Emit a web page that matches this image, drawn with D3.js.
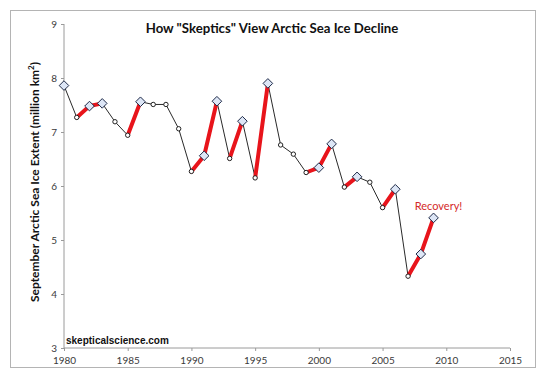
<!DOCTYPE html>
<html>
<head>
<meta charset="utf-8">
<script src="https://cdn.jsdelivr.net/npm/d3@7"></script>
<style>
  body { margin: 0; background: #fff; }
  svg { display: block; }
</style>
</head>
<body>
<svg id="chart"></svg>
<script>
// September extent (million km2)
const years = [1980, 1981, 1982, 1983, 1984, 1985, 1986, 1987, 1988, 1989,
  1990, 1991, 1992, 1993, 1994, 1995, 1996, 1997, 1998, 1999,
  2000, 2001, 2002, 2003, 2004, 2005, 2006, 2007, 2008, 2009];
const extent = [7.86, 7.27, 7.48, 7.53, 7.19, 6.94, 7.56, 7.51, 7.51, 7.06,
  6.27, 6.56, 7.57, 6.51, 7.20, 6.15, 7.90, 6.76, 6.59, 6.25,
  6.34, 6.78, 5.98, 6.17, 6.07, 5.60, 5.94, 4.33, 4.74, 5.41];
const xTicks = [1980, 1985, 1990, 1995, 2000, 2005, 2010, 2015];
const yTicks = [3, 4, 5, 6, 7, 8, 9];

const width = 550;
const height = 377;

const svg = d3.select("#chart")
  .attr("width", width)
  .attr("height", height);

const data = years.map((yr, i) => ({ year: yr, value: extent[i], i }));

// scales
const x = d3.scaleLinear().domain([1980, 2015]).range([64, 510]);
const y = d3.scaleLinear().domain([3, 9]).range([348, 24]);

// outer frame
svg.append("rect")
  .attr("x", 10.5).attr("y", 10.5)
  .attr("width", 525).attr("height", 357)
  .attr("fill", "#fff")
  .attr("stroke", "#b4b4b4");

// axes
const xAxis = d3.axisBottom(x).tickValues(xTicks).tickFormat(d3.format("d")).tickSize(3);
const yAxis = d3.axisLeft(y).tickValues(yTicks).tickFormat(d3.format("d")).tickSize(3);

const gx = svg.append("g")
  .attr("transform", `translate(0,${y(3)})`)
  .call(xAxis);
const gy = svg.append("g")
  .attr("transform", `translate(${x(1980)},0)`)
  .call(yAxis);

[gx, gy].forEach(g => {
  g.select(".domain").attr("stroke", "#9a9a9a");
  g.selectAll(".tick line").attr("stroke", "#9a9a9a");
  g.selectAll(".tick text")
    .attr("fill", "#3a3a3a")
    .style("font-family", "Lato, 'Open Sans', sans-serif")
    .style("font-size", "10px");
});
gx.select(".domain").attr("d", `M${x(1980)},0H${x(2015)}`);
gy.select(".domain").attr("d", `M0,${y(9)}V${y(3)}`);
gx.selectAll(".tick text").attr("dy", "0.95em");
gy.selectAll(".tick text").attr("x", -7);

// title
svg.append("text")
  .attr("x", 272)
  .attr("y", 33)
  .attr("text-anchor", "middle")
  .style("font-family", "Lato, 'Open Sans', sans-serif")
  .style("font-weight", "bold")
  .style("font-size", "13.2px")
  .attr("fill", "#111")
  .text('How "Skeptics" View Arctic Sea Ice Decline');

// y axis label
svg.append("text")
  .attr("transform", `translate(39,${(y(3) + y(9)) / 2 - 4}) rotate(-90)`)
  .attr("text-anchor", "middle")
  .style("font-family", "Lato, 'Open Sans', sans-serif")
  .style("font-weight", "bold")
  .style("font-size", "12px")
  .attr("fill", "#111")
  .html('September Arctic Sea Ice Extent (million km<tspan dy="-5" font-size="8px">2</tspan><tspan dy="5">)</tspan>');

// black line through every year
const line = d3.line().x(d => x(d.year)).y(d => y(d.value));
svg.append("path")
  .datum(data)
  .attr("fill", "none")
  .attr("stroke", "#2a2a2a")
  .attr("stroke-width", 1)
  .attr("d", line);

// red segments where the extent went up
const ups = data.slice(1).filter(d => d.value > data[d.i - 1].value);
svg.append("g")
  .selectAll("line")
  .data(ups)
  .join("line")
  .attr("x1", d => x(data[d.i - 1].year))
  .attr("y1", d => y(data[d.i - 1].value))
  .attr("x2", d => x(d.year))
  .attr("y2", d => y(d.value))
  .attr("stroke", "#e8141b")
  .attr("stroke-width", 4)
  .attr("stroke-linecap", "round");

// markers: diamond after an increase, small circle otherwise
const isUp = d => d.i === 0 || d.value > data[d.i - 1].value;

svg.append("g")
  .selectAll("circle")
  .data(data.filter(d => !isUp(d)))
  .join("circle")
  .attr("cx", d => x(d.year))
  .attr("cy", d => y(d.value))
  .attr("r", 2.2)
  .attr("fill", "#fff")
  .attr("stroke", "#222")
  .attr("stroke-width", 1);

const r = 4.8;
svg.append("g")
  .selectAll("path")
  .data(data.filter(isUp))
  .join("path")
  .attr("transform", d => `translate(${x(d.year)},${y(d.value)})`)
  .attr("d", `M0,${-r}L${r},0L0,${r}L${-r},0Z`)
  .attr("fill", "#dde6f6")
  .attr("stroke", "#1e2a48")
  .attr("stroke-width", 1);

// annotation
const last = data[data.length - 1];
svg.append("text")
  .attr("x", x(last.year) + 5)
  .attr("y", y(last.value) - 8)
  .attr("text-anchor", "middle")
  .style("font-family", "Lato, 'Open Sans', sans-serif")
  .style("font-size", "11px")
  .attr("fill", "#d42a2a")
  .text("Recovery!");

// source
svg.append("text")
  .attr("x", 66)
  .attr("y", 344)
  .style("font-family", "'Liberation Sans', Arial, sans-serif")
  .style("font-weight", "bold")
  .style("font-size", "10px")
  .attr("fill", "#111")
  .text("skepticalscience.com");
</script>
</body>
</html>
